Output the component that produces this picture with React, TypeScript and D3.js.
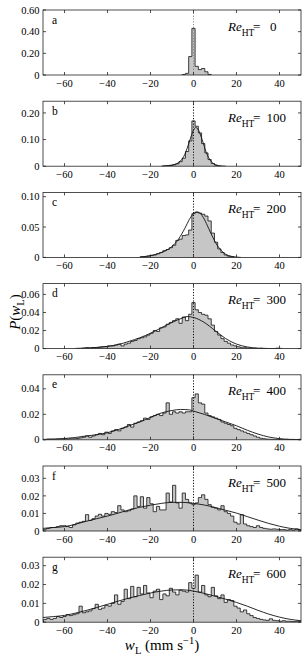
import * as d3 from "d3";
import React from "react";

const W = 306;
const H = 660;
const plotL = 43;
const plotR = 301;
const panelH = 65;
const panelGap = 91.2;
const firstTop = 10;
const BIN = 1.5;

const xTicks = [-60, -40, -20, 0, 20, 40];
const xDomain: [number, number] = [-70, 50];

const panelLetters = ["a", "b", "c", "d", "e", "f", "g"];
const reValues = ["0", "100", "200", "300", "400", "500", "600"];
const yMax = [0.6, 0.244, 0.107, 0.072, 0.051, 0.037, 0.0345];
const yTicks = [
  [0, 0.2, 0.4, 0.6],
  [0, 0.1, 0.2],
  [0, 0.05, 0.1],
  [0, 0.02, 0.04, 0.06],
  [0, 0.02, 0.04],
  [0, 0.01, 0.02, 0.03],
  [0, 0.01, 0.02, 0.03],
];
const yTickLabels = [
  ["0", "0.20", "0.40", "0.60"],
  ["0", "0.10", "0.20"],
  ["0", "0.05", "0.10"],
  ["0", "0.02", "0.04", "0.06"],
  ["0", "0.02", "0.04"],
  ["0", "0.01", "0.02", "0.03"],
  ["0", "0.01", "0.02", "0.03"],
];

// histogram bins: first bin centre, then values (bin width 1.5 mm/s)
const histAStart = -4.5;
const histA = [0.005, 0.015, 0.17, 0.43, 0.08, 0.05, 0.06, 0.03, 0.005];

const histBStart = -13.5;
const histB = [0.001, 0.002, 0.003, 0.005, 0.009, 0.017, 0.03, 0.055, 0.095, 0.17, 0.15, 0.125, 0.085, 0.05, 0.025, 0.01, 0.004, 0.001];

const histCStart = -24;
const histC = [0.001, 0.001, 0.002, 0.003, 0.004, 0.006, 0.008, 0.011, 0.013, 0.016, 0.02, 0.028, 0.03, 0.036, 0.037, 0.045,
  0.072, 0.074, 0.073, 0.071, 0.068, 0.06, 0.04, 0.025, 0.014, 0.008, 0.004, 0.002, 0.001];

const histDStart = -51;
const histD = [0.0005, 0.001, 0.0005, 0.001, 0.001, 0.0015, 0.002, 0.002, 0.003, 0.003, 0.004, 0.005, 0.003, 0.005, 0.006,
  0.008, 0.009, 0.011, 0.012, 0.013, 0.015, 0.017, 0.02, 0.019, 0.023, 0.024, 0.027, 0.029, 0.031, 0.033, 0.028, 0.035, 0.031, 0.038,
  0.051, 0.043, 0.04, 0.038, 0.037, 0.033, 0.026, 0.019, 0.015, 0.011, 0.008, 0.006, 0.004, 0.003, 0.002, 0.001, 0.001, 0.0005,
  0.0003, 0.0003, 0, 0.0003, 0, 0, 0, 0, 0.0005, 0.0003];

const histEStart = -67.5;
const histE = [0.0005, 0.0005, 0.0004, 0.0006, 0.0005, 0.0007, 0.0006, 0.0008, 0.0008, 0.001, 0.0015, 0.002, 0.003, 0.002, 0.003,
  0.004, 0.005, 0.004, 0.006, 0.005, 0.007, 0.008, 0.007, 0.009, 0.01, 0.012, 0.01, 0.013, 0.014, 0.015, 0.017, 0.016, 0.018,
  0.019, 0.02, 0.019, 0.021, 0.029, 0.02, 0.022, 0.021, 0.022, 0.021, 0.022, 0.022, 0.033, 0.036, 0.029, 0.028, 0.021, 0.019,
  0.018, 0.017, 0.016, 0.014, 0.013, 0.012, 0.011, 0.009, 0.008, 0.007, 0.006, 0.005, 0.004, 0.003, 0.002, 0.0012, 0.0008,
  0.0005, 0.0004, 0.0003, 0.0003, 0.0003, 0.0002, 0.0003, 0.0002, 0.0003, 0.0002, 0.0004];

const histFStart = -69;
const histF = [0.001, 0.0015, 0.002, 0.002, 0.0025, 0.003, 0.003, 0.0025, 0.002, 0.0035, 0.0045, 0.005, 0.0055, 0.0093, 0.006,
  0.007, 0.0085, 0.0095, 0.0085, 0.01, 0.0095, 0.011, 0.0105, 0.0144, 0.012, 0.011, 0.0115, 0.0125, 0.02, 0.014, 0.0195, 0.013,
  0.019, 0.0155, 0.011, 0.014, 0.012, 0.012, 0.0216, 0.0165, 0.026, 0.016, 0.013, 0.0216, 0.018, 0.016, 0.015, 0.016, 0.019,
  0.0206, 0.018, 0.015, 0.0135, 0.013, 0.012, 0.0144, 0.011, 0.01, 0.0085, 0.005, 0.004, 0.0093, 0.004, 0.003, 0.0025, 0.002,
  0.003, 0.002, 0.0015, 0.0012, 0.001, 0.0012, 0.001, 0.0008, 0.0008, 0.0005, 0.0008, 0.0005, 0.0012, 0.0005];

const histGStart = -69;
const histG = [0.0015, 0.002, 0.0015, 0.002, 0.003, 0.0025, 0.003, 0.004, 0.0035, 0.004, 0.0045, 0.0085, 0.005, 0.0055, 0.006,
  0.0072, 0.0095, 0.0068, 0.0075, 0.009, 0.0085, 0.01, 0.0145, 0.0095, 0.011, 0.0175, 0.0125, 0.019, 0.0135, 0.0185, 0.015,
  0.0195, 0.0155, 0.013, 0.0165, 0.0175, 0.012, 0.015, 0.014, 0.018, 0.016, 0.0145, 0.017, 0.0165, 0.016, 0.021, 0.018, 0.025,
  0.016, 0.0195, 0.0145, 0.0135, 0.0185, 0.014, 0.0125, 0.0145, 0.0105, 0.012, 0.0115, 0.0085, 0.0075, 0.0055, 0.0065, 0.0045,
  0.0035, 0.0025, 0.002, 0.0015, 0.0012, 0.001, 0.0018, 0.001, 0.0008, 0.0005, 0.0008, 0.0005, 0.0005, 0.0003, 0.0005, 0.0003];

const curveA: [number, number][] = [];
const curveB: [number, number][] = [[-15, 0], [-10, 0.004], [-6, 0.02], [-4, 0.045], [-2, 0.09], [0, 0.135], [1, 0.145],
  [2, 0.14], [4, 0.1], [6, 0.05], [8, 0.02], [10, 0.006], [12, 0.001], [15, 0]];
const curveC: [number, number][] = [[-25, 0.0005], [-20, 0.003], [-15, 0.008], [-10, 0.018], [-7, 0.03], [-4, 0.048],
  [-2, 0.062], [0, 0.072], [1.5, 0.075], [3, 0.073], [5, 0.063], [7, 0.048], [9, 0.033], [11, 0.02], [13, 0.011], [15, 0.005],
  [18, 0.0015], [22, 0]];
const curveD: [number, number][] = [[-55, 0.0002], [-50, 0.0006], [-45, 0.0013], [-40, 0.0025], [-35, 0.0045], [-30, 0.008],
  [-25, 0.012], [-20, 0.017], [-15, 0.023], [-10, 0.029], [-5, 0.034], [-3, 0.0355], [0, 0.0345], [5, 0.029], [10, 0.02],
  [15, 0.011], [20, 0.005], [25, 0.0018], [30, 0.0005], [35, 0.0001], [40, 0]];
const curveE: [number, number][] = [[-70, 0.0003], [-60, 0.001], [-55, 0.0018], [-50, 0.003], [-45, 0.004], [-40, 0.0056],
  [-35, 0.008], [-30, 0.011], [-25, 0.014], [-20, 0.0176], [-15, 0.021], [-10, 0.023], [-6, 0.0238], [-2, 0.0235], [0, 0.0225],
  [5, 0.02], [10, 0.017], [15, 0.014], [20, 0.011], [25, 0.0075], [30, 0.0045], [35, 0.0022], [40, 0.0009], [45, 0.0003],
  [50, 0.0001]];
const curveF: [number, number][] = [[-70, 0.0015], [-65, 0.002], [-60, 0.0025], [-55, 0.0038], [-50, 0.0055], [-45, 0.007],
  [-40, 0.0085], [-35, 0.0102], [-30, 0.012], [-25, 0.0135], [-20, 0.0147], [-15, 0.0157], [-10, 0.0163], [-5, 0.0163],
  [0, 0.0157], [5, 0.0148], [10, 0.0134], [15, 0.0118], [20, 0.0102], [25, 0.0082], [30, 0.0062], [35, 0.0043], [40, 0.0027],
  [45, 0.0015], [50, 0.0008]];
const curveG: [number, number][] = [[-70, 0.0025], [-65, 0.003], [-60, 0.0036], [-55, 0.0048], [-50, 0.0062], [-45, 0.0078],
  [-40, 0.0095], [-35, 0.0112], [-30, 0.0128], [-25, 0.0142], [-20, 0.0155], [-15, 0.0165], [-10, 0.0171], [-5, 0.0172],
  [0, 0.0165], [5, 0.0153], [10, 0.0138], [15, 0.0122], [20, 0.0105], [25, 0.0085], [30, 0.0063], [35, 0.0043], [40, 0.0027],
  [45, 0.0015], [50, 0.0008]];

const histStarts = [histAStart, histBStart, histCStart, histDStart, histEStart, histFStart, histGStart];
const hists = [histA, histB, histC, histD, histE, histF, histG];
const curves = [curveA, curveB, curveC, curveD, curveE, curveF, curveG];

const serif = "Liberation Serif, Times New Roman, DejaVu Serif, serif";
const fmtMinus = (v: number) => (v < 0 ? `\u2212${Math.abs(v)}` : `${v}`);

function Panel({ i }: { i: number }) {
  const top = firstTop + i * panelGap;
  const bottom = top + panelH;
  const x = d3.scaleLinear().domain(xDomain).range([plotL, plotR]);
  const y = d3.scaleLinear().domain([0, yMax[i]]).range([bottom, top]);

  const vals = hists[i];
  const pts: [number, number][] = vals.map((v, k) => [histStarts[i] + k * BIN - BIN / 2, v]);
  const lastEdge = histStarts[i] + (vals.length - 1) * BIN + BIN / 2;
  const stepPts: [number, number][] = [[pts[0][0], 0], ...pts, [lastEdge, vals[vals.length - 1]], [lastEdge, 0]];

  const area = d3
    .area<[number, number]>()
    .x((d) => x(d[0]))
    .y0(y(0))
    .y1((d) => y(d[1]))
    .curve(d3.curveStepAfter);
  const outline = d3
    .line<[number, number]>()
    .x((d) => x(d[0]))
    .y((d) => y(d[1]))
    .curve(d3.curveStepAfter);
  const fit = d3
    .line<[number, number]>()
    .x((d) => x(d[0]))
    .y((d) => y(d[1]))
    .curve(d3.curveMonotoneX);

  const clipId = `clip-${i}`;
  const tk = 3;

  return (
    <g>
      <defs>
        <clipPath id={clipId}>
          <rect x={plotL} y={top} width={plotR - plotL} height={panelH} />
        </clipPath>
      </defs>
      <g clipPath={`url(#${clipId})`}>
        <path d={area([...pts, [lastEdge, vals[vals.length - 1]]]) ?? ""} fill="#c6c6c6" />
        <path d={outline(stepPts) ?? ""} fill="none" stroke="#111" strokeWidth={0.8} />
        {curves[i].length > 0 && (
          <path d={fit(curves[i]) ?? ""} fill="none" stroke="#111" strokeWidth={0.9} />
        )}
        <line x1={x(0)} x2={x(0)} y1={top} y2={bottom} stroke={i === 0 ? "#888" : "#111"}
              strokeWidth={1} strokeDasharray="1.2,1.6" />
      </g>
      <rect x={plotL} y={top} width={plotR - plotL} height={panelH} fill="none" stroke="#222" strokeWidth={0.8} />
      {xTicks.map((t) => (
        <g key={t}>
          <line x1={x(t)} x2={x(t)} y1={bottom} y2={bottom - tk} stroke="#222" strokeWidth={0.8} />
          <line x1={x(t)} x2={x(t)} y1={top} y2={top + tk} stroke="#222" strokeWidth={0.8} />
          <text x={x(t)} y={bottom + 11.5} textAnchor="middle" fontSize={10.5} fontFamily={serif}>
            {fmtMinus(t)}
          </text>
        </g>
      ))}
      {yTicks[i].map((t, k) => (
        <g key={t}>
          <line x1={plotL} x2={plotL + tk} y1={y(t)} y2={y(t)} stroke="#222" strokeWidth={0.8} />
          <line x1={plotR} x2={plotR - tk} y1={y(t)} y2={y(t)} stroke="#222" strokeWidth={0.8} />
          <text x={39.5} y={y(t)} dy="0.35em" textAnchor="end" fontSize={10.5} fontFamily={serif}>
            {yTickLabels[i][k]}
          </text>
        </g>
      ))}
      <text x={52} y={top + 13.5} fontSize={11.5} fontFamily={serif}>
        {panelLetters[i]}
      </text>
      <text x={228} y={top + 20.5} fontSize={13} fontFamily={serif}>
        <tspan fontStyle="italic">Re</tspan>
        <tspan fontSize={9.5} dy={5}>HT</tspan>
      </text>
      <text x={253} y={top + 20.5} fontSize={13} fontFamily={serif}>=</text>
      <text x={i === 0 ? 270 : 266.5} y={top + 20.5} fontSize={13} fontFamily={serif}>
        {reValues[i]}
      </text>
    </g>
  );
}

export default function App() {
  return (
    <svg width={W} height={H} viewBox={`0 0 ${W} ${H}`}
         style={{ position: "absolute", left: 0, top: 0, background: "#fff" }}>
      {panelLetters.map((_, i) => (
        <Panel key={i} i={i} />
      ))}
      <text transform="translate(20,312) rotate(-90)" textAnchor="middle" fontSize={15} fontFamily={serif}>
        <tspan fontStyle="italic">P</tspan>
        <tspan>(</tspan>
        <tspan fontStyle="italic">w</tspan>
        <tspan fontSize={10.5} dy={4}>L</tspan>
        <tspan dy={-4}>)</tspan>
      </text>
      <text x={162} y={650} textAnchor="middle" fontSize={15} fontFamily={serif}>
        <tspan fontStyle="italic">w</tspan>
        <tspan fontSize={10.5} dy={4}>L</tspan>
        <tspan dy={-4}> (mm s</tspan>
        <tspan fontSize={10.5} dy={-6}>−1</tspan>
        <tspan dy={6}>)</tspan>
      </text>
    </svg>
  );
}
